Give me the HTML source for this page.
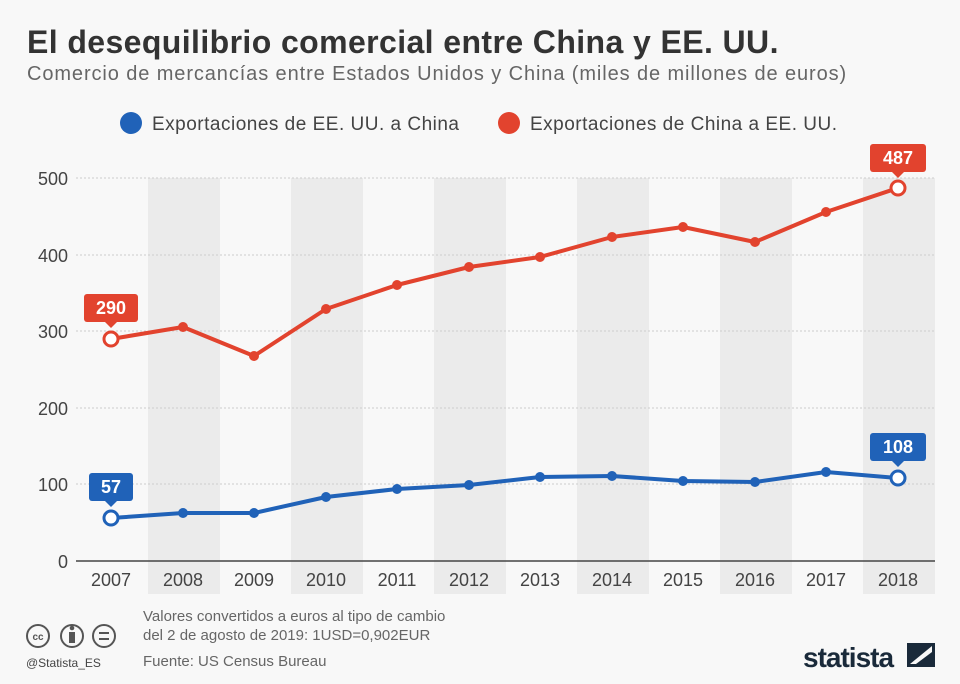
<!DOCTYPE html>
<html><head><meta charset="utf-8"><style>
body{margin:0;width:960px;height:684px;background:#f8f8f8;font-family:"Liberation Sans",sans-serif;overflow:hidden;position:relative}
.t{position:absolute;left:27px;top:24px;font-size:32px;font-weight:bold;color:#333;letter-spacing:0.4px}
.s{position:absolute;left:27px;top:63px;font-size:20px;color:#666;letter-spacing:0.9px}
</style></head><body>
<div class="t">El desequilibrio comercial entre China y EE. UU.</div>
<div class="s">Comercio de mercancías entre Estados Unidos y China (miles de millones de euros)</div>
<svg width="960" height="684" style="position:absolute;left:0;top:0" font-family="Liberation Sans,sans-serif">
<circle cx="131" cy="123" r="11" fill="#2062b8"/>
<text x="152" y="130" font-size="19" fill="#444" letter-spacing="0.5">Exportaciones de EE. UU. a China</text>
<circle cx="509" cy="123" r="11" fill="#e2432e"/>
<text x="530" y="130" font-size="19" fill="#444" letter-spacing="0.5">Exportaciones de China a EE. UU.</text>
<g fill="#ebebeb">
<rect x="148" y="178" width="72" height="416"/><rect x="291" y="178" width="72" height="416"/>
<rect x="434" y="178" width="72" height="416"/><rect x="577" y="178" width="72" height="416"/>
<rect x="720" y="178" width="72" height="416"/><rect x="863" y="178" width="72" height="416"/>
</g>
<g stroke="#ccc" stroke-dasharray="2,2">
<line x1="76" x2="935" y1="178" y2="178"/><line x1="76" x2="935" y1="255" y2="255"/>
<line x1="76" x2="935" y1="331" y2="331"/><line x1="76" x2="935" y1="408" y2="408"/>
<line x1="76" x2="935" y1="484" y2="484"/>
</g>
<line x1="76" x2="935" y1="561" y2="561" stroke="#444" stroke-width="1.5"/>
<g font-size="18" fill="#444" text-anchor="end">
<text x="68" y="185">500</text><text x="68" y="262">400</text><text x="68" y="338">300</text>
<text x="68" y="415">200</text><text x="68" y="491">100</text><text x="68" y="568">0</text>
</g>
<g font-size="18" fill="#444" text-anchor="middle">
<text x="111" y="586">2007</text><text x="183" y="586">2008</text><text x="254" y="586">2009</text>
<text x="326" y="586">2010</text><text x="397" y="586">2011</text><text x="469" y="586">2012</text>
<text x="540" y="586">2013</text><text x="612" y="586">2014</text><text x="683" y="586">2015</text>
<text x="755" y="586">2016</text><text x="826" y="586">2017</text><text x="898" y="586">2018</text>
</g>
<polyline fill="none" stroke="#e2432e" stroke-width="4" stroke-linejoin="round" points="111,339 183,327 254,356 326,309 397,285 469,267 540,257 612,237 683,227 755,242 826,212 898,188"/>
<polyline fill="none" stroke="#2062b8" stroke-width="4" stroke-linejoin="round" points="111,518 183,513 254,513 326,497 397,489 469,485 540,477 612,476 683,481 755,482 826,472 898,478"/>
<g fill="#e2432e"><circle cx="183" cy="327" r="5"/><circle cx="254" cy="356" r="5"/><circle cx="326" cy="309" r="5"/><circle cx="397" cy="285" r="5"/><circle cx="469" cy="267" r="5"/><circle cx="540" cy="257" r="5"/><circle cx="612" cy="237" r="5"/><circle cx="683" cy="227" r="5"/><circle cx="755" cy="242" r="5"/><circle cx="826" cy="212" r="5"/></g>
<g fill="#2062b8"><circle cx="183" cy="513" r="5"/><circle cx="254" cy="513" r="5"/><circle cx="326" cy="497" r="5"/><circle cx="397" cy="489" r="5"/><circle cx="469" cy="485" r="5"/><circle cx="540" cy="477" r="5"/><circle cx="612" cy="476" r="5"/><circle cx="683" cy="481" r="5"/><circle cx="755" cy="482" r="5"/><circle cx="826" cy="472" r="5"/></g>
<circle cx="111" cy="339" r="7" fill="#fff" stroke="#e2432e" stroke-width="3"/>
<circle cx="898" cy="188" r="7" fill="#fff" stroke="#e2432e" stroke-width="3"/>
<circle cx="111" cy="518" r="7" fill="#fff" stroke="#2062b8" stroke-width="3"/>
<circle cx="898" cy="478" r="7" fill="#fff" stroke="#2062b8" stroke-width="3"/>
<g font-size="18" font-weight="bold" fill="#fff" text-anchor="middle">
<rect x="84" y="294" width="54" height="28" rx="3" fill="#e2432e"/><path d="M105 322 L111 328 L117 322Z" fill="#e2432e"/><text x="111" y="314">290</text>
<rect x="870" y="144" width="56" height="28" rx="3" fill="#e2432e"/><path d="M892 172 L898 178 L904 172Z" fill="#e2432e"/><text x="898" y="164">487</text>
<rect x="89" y="473" width="44" height="28" rx="3" fill="#2062b8"/><path d="M105 501 L111 507 L117 501Z" fill="#2062b8"/><text x="111" y="493">57</text>
<rect x="870" y="433" width="56" height="28" rx="3" fill="#2062b8"/><path d="M892 461 L898 467 L904 461Z" fill="#2062b8"/><text x="898" y="453">108</text>
</g>
<g fill="none" stroke="#555" stroke-width="2"><circle cx="38" cy="636" r="11"/><circle cx="72" cy="636" r="11"/><circle cx="104" cy="636" r="11"/></g>
<text x="38" y="640" font-size="10" font-weight="bold" fill="#555" text-anchor="middle">cc</text>
<rect x="69" y="632" width="6" height="11" fill="#555"/><circle cx="72" cy="628" r="2.3" fill="#555"/>
<rect x="99" y="632" width="10" height="2" fill="#555"/><rect x="99" y="638" width="10" height="2" fill="#555"/>
<text x="26" y="667" font-size="12" fill="#444">@Statista_ES</text>
<g font-size="15" fill="#666"><text x="143" y="621">Valores convertidos a euros al tipo de cambio</text><text x="143" y="640">del 2 de agosto de 2019: 1USD=0,902EUR</text><text x="143" y="666">Fuente: US Census Bureau</text></g>
<text x="803" y="667" font-size="28" font-weight="bold" fill="#1a2a3a" letter-spacing="-1">statista</text>
<rect x="907" y="643" width="28" height="24" fill="#1a2a3a"/><path d="M910 664 L932 646 L932 652 L916 664Z" fill="#f8f8f8"/>
</svg>
</body></html>
